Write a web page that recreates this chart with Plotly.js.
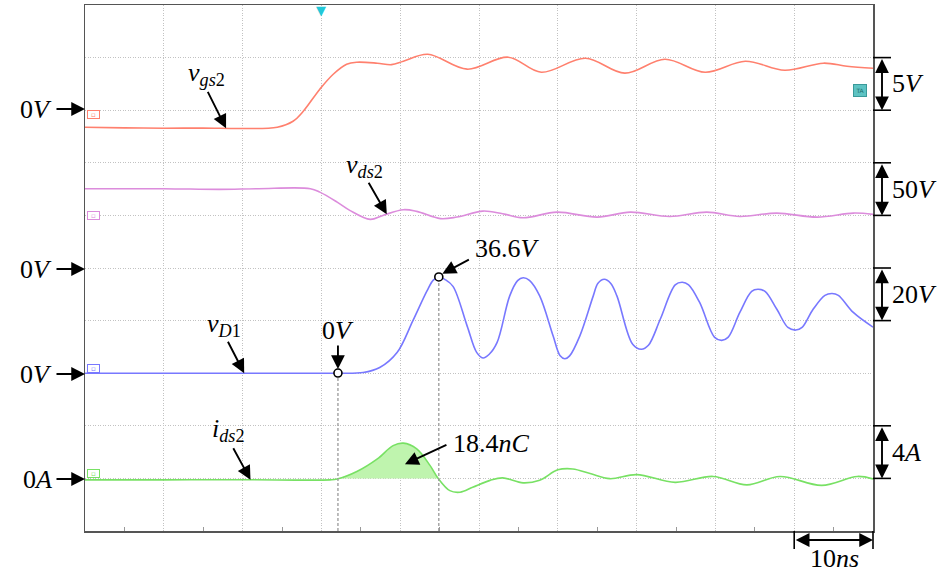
<!DOCTYPE html>
<html><head><meta charset="utf-8">
<script src="https://cdn.plot.ly/plotly-3.0.1.min.js"></script>
<style>html,body{margin:0;padding:0;background:#fff}#plot{width:938px;height:573px}</style>
</head><body><div id="plot"></div>
<script>
// ---- data (time in ns, 10 ns/div) ----
const tVgs2 = [0, 5, 10, 15, 20, 24.4, 26.4, 27.7, 29.8, 31.5, 33.2, 34.5, 37.1, 38.9, 40.4, 43.5, 48.5, 53.7, 57.9, 63.5, 68.5, 73.6, 78.7, 83.8, 88.8, 93.7, 96.7, 100];
const vgs2  = [-1.62, -1.68, -1.71, -1.70, -1.74, -1.62, -1.05, -0.10, 2.00, 3.42, 4.37, 4.56, 4.47, 4.33, 4.66, 5.32, 3.90, 5.04, 3.61, 4.94, 3.52, 4.85, 3.61, 4.66, 3.80, 4.47, 4.18, 3.99];

const tVds2 = [0, 10, 17.1, 22, 28.6, 29.8, 32.0, 33.6, 36.2, 37.8, 40.4, 42.1, 45.1, 47.2, 50.5, 53.0, 55.6, 59.9, 65.0, 69.2, 74.2, 78.9, 83.1, 87.8, 92.9, 97.5, 100];
const vds2  = [25.4, 25.4, 24.7, 25.4, 25.4, 22.1, 12.6, 4.8, -3.8, 0, 5.4, 3.8, -3.1, -1.6, 4.1, 1.6, -2.2, 3.1, -1.6, 3.1, -1.0, 3.1, -1.0, 2.2, -1.6, 2.2, 1.0];

const tVD1 = [0, 10, 20, 31.1, 35.3, 37.4, 39.6, 41.6, 43.4, 44.2, 44.9, 45.7, 46.7, 48.5, 49.7, 50.5, 51.3, 52.3, 53.9, 54.9, 55.6, 56.4, 57.7, 59.4, 60.3, 60.9, 61.5, 62.8, 64.5, 65.1, 65.9, 66.7, 67.5, 69.5, 70.6, 71.5, 73.0, 74.9, 75.8, 76.6, 78.0, 79.9, 80.8, 81.6, 83.1, 84.6, 85.4, 86.3, 87.8, 89.2, 90.2, 91.0, 92.4, 93.9, 94.8, 95.6, 97.5, 100];
const vD1  = [0, 0, 0, 0, 0.25, 2.15, 7.86, 19.9, 31.3, 35.4, 36.6, 35.6, 33.0, 17.9, 7.9, 5.8, 7.2, 11.7, 29.4, 35.2, 36.3, 35.3, 29.4, 14.2, 6.6, 5.5, 6.6, 14.2, 29.4, 34.2, 35.7, 34.2, 29.4, 11.0, 9.1, 10.6, 20.5, 33.6, 34.6, 33.6, 26.9, 13.6, 12.5, 13.6, 23.1, 31.1, 31.9, 31.1, 24.3, 17.4, 16.4, 17.4, 24.3, 29.6, 30.3, 29.6, 23.1, 17.5];

const tIds2 = [0, 10, 20, 31.1, 32.0, 34.5, 37.1, 39.1, 40.4, 42.1, 43.8, 44.8, 46.3, 47.6, 49.2, 51.4, 53.0, 55.6, 57.7, 60.0, 61.9, 64.1, 66.6, 70.0, 74.9, 79.7, 84.0, 88.2, 93.5, 98.0, 100];
const ids2  = [-0.11, -0.11, -0.10, -0.11, -0.05, 0.52, 1.48, 2.49, 2.68, 2.24, 0.97, 0.02, -0.93, -1.05, -0.67, -0.15, 0.04, -0.34, -0.14, 0.65, 0.72, 0.37, -0.02, 0.29, -0.30, 0.15, -0.49, 0.15, -0.53, 0.15, -0.04];

// channel settings: zero position (div from bottom) and scale per div
const chVgs2 = {zero: 8, scale: 5};
const chVds2 = {zero: 6, scale: 50};
const chVD1  = {zero: 3, scale: 20};
const chIds2 = {zero: 1, scale: 4};

const tZero = 32.1;         // instant where vD1 = 0V begins to rise
const qLabel = '18.4<i>nC</i>';
const peakLabel = '36.6<i>V</i>';

// ---- helpers ----
const toDiv = (arr, ch) => arr.map(v => ch.zero + v / ch.scale);
function interp(ts, vs, t) {
  for (let i = 1; i < ts.length; i++) {
    if (t <= ts[i]) { const f = (t - ts[i-1]) / (ts[i] - ts[i-1]); return vs[i-1] + f * (vs[i] - vs[i-1]); }
  }
  return vs[vs.length - 1];
}
const L = 85, T = 5, W = 788, H = 526;
const px = x => (x - L) / W;
const py = y => (T + H - y) / H;

const cG = '#ff806e', cD = '#dc8cdc', cV = '#7878ff', cI = '#78e164';
const font = {family: 'Liberation Serif', size: 26, color: '#000'};

// peak of vD1
let pk = 0; vD1.forEach((v, i) => { if (v > vD1[pk]) pk = i; });
const tPeak = tVD1[pk];

// charge fill polygon (ids2 between tZero and tPeak)
const fx = [tZero], fy = [interp(tIds2, ids2, tZero)];
tIds2.forEach((t, i) => { if (t > tZero && t < tPeak) { fx.push(t); fy.push(ids2[i]); } });
fx.push(tPeak); fy.push(Math.max(0, interp(tIds2, ids2, tPeak)));
fx.push(tPeak); fy.push(0); fx.push(tZero); fy.push(0);

const line = (x, y, c) => ({x, y, type: 'scatter', mode: 'lines', line: {color: c, width: 1.6, shape: 'spline', smoothing: 1}, hoverinfo: 'skip'});

const traces = [
  {x: fx, y: toDiv(fy, chIds2), type: 'scatter', mode: 'lines', fill: 'toself', fillcolor: '#bff4ae', line: {width: 0, shape: 'spline', smoothing: 0.6}, hoverinfo: 'skip'},
  line(tVgs2, toDiv(vgs2, chVgs2), cG),
  line(tVds2, toDiv(vds2, chVds2), cD),
  line(tVD1, toDiv(vD1, chVD1), cV),
  line(tIds2, toDiv(ids2, chIds2), cI),
  {x: [tZero, tPeak], y: [chVD1.zero + interp(tVD1, vD1, tZero) / chVD1.scale, chVD1.zero + vD1[pk] / chVD1.scale],
   type: 'scatter', mode: 'markers', marker: {symbol: 'circle', size: 8, color: '#fff', line: {color: '#000', width: 1.6}}, hoverinfo: 'skip', cliponaxis: false}
];

const shapes = [
  {type: 'line', xref: 'x', yref: 'y', x0: tZero, x1: tZero, y0: 0, y1: chVD1.zero - 0.08, line: {color: '#999', width: 1.3, dash: '3px,2px'}},
  {type: 'line', xref: 'x', yref: 'y', x0: tPeak, x1: tPeak, y0: 0, y1: chVD1.zero + vD1[pk] / chVD1.scale - 0.08, line: {color: '#999', width: 1.3, dash: '3px,2px'}},
];
const ann = [];
function arrow(xr, yr, x, y, ax, ay, both) {
  ann.push({xref: xr, yref: yr, x, y, ax, ay, axref: 'pixel', ayref: 'pixel', text: '', showarrow: true,
            arrowhead: 2, arrowsize: 1.45, arrowwidth: 1.9, arrowcolor: '#000', arrowside: both ? 'end+start' : 'end', standoff: 0, startstandoff: 0});
}
function text(x, y, s, xa, opts) {
  ann.push(Object.assign({xref: 'paper', yref: 'paper', x: px(x), y: py(y), text: s, showarrow: false, xanchor: xa || 'center', yanchor: 'middle', font}, opts || {}));
}

// left zero markers
[[109, '0<i>V</i>'], [269, '0<i>V</i>'], [374, '0<i>V</i>'], [479, '0<i>A</i>']].forEach(([y, s]) => {
  arrow('paper', 'paper', 0, py(y), -30, 0);
  text(54, y, s, 'right');
});

// right scale bars
[[chVgs2.zero, '5<i>V</i>'], [chVds2.zero, '50<i>V</i>'], [4, '20<i>V</i>'], [chIds2.zero, '4<i>A</i>']].forEach(([d, s]) => {
  arrow('paper', 'paper', px(882), d / 10, 0, -H / 10, true);
  shapes.push({type: 'line', xref: 'paper', yref: 'paper', x0: 1, x1: px(891), y0: d / 10, y1: d / 10, line: {color: '#000', width: 1.6}});
  shapes.push({type: 'line', xref: 'paper', yref: 'paper', x0: 1, x1: px(891), y0: (d + 1) / 10, y1: (d + 1) / 10, line: {color: '#000', width: 1.6}});
  ann.push({xref: 'paper', yref: 'paper', x: px(890), y: (d + 0.5) / 10, text: s, showarrow: false, xanchor: 'left', yanchor: 'middle', font});
});

// time scale bar
arrow('paper', 'paper', 1, py(540), -W / 10, 0, true);
shapes.push({type: 'line', xref: 'paper', yref: 'paper', x0: 0.9, x1: 0.9, y0: 0, y1: py(549), line: {color: '#000', width: 1.6}});
shapes.push({type: 'line', xref: 'paper', yref: 'paper', x0: 1, x1: 1, y0: 0, y1: py(549), line: {color: '#000', width: 1.6}});
text(834, 558, '10<i>ns</i>');

// trace labels with arrows
const sub = s => '<sub>' + s + '</sub>';
function label(x, y, s) { text(x, y, s, 'left'); }
label(186, 74, '<i>v</i>' + sub('<i>gs</i>2'));
arrow('x', 'y', 17.9, chVgs2.zero + interp(tVgs2, vgs2, 17.9) / chVgs2.scale, -19, -38);
label(344, 166, '<i>v</i>' + sub('<i>ds</i>2'));
arrow('x', 'y', 38.3, chVds2.zero + interp(tVds2, vds2, 38.3) / chVds2.scale, -19, -33);
label(205, 325, '<i>v</i>' + sub('<i>D</i>1'));
arrow('x', 'y', 20.2, chVD1.zero + interp(tVD1, vD1, 20.2) / chVD1.scale, -17, -33);
label(210, 430, '<i>i</i>' + sub('<i>ds</i>2'));
arrow('x', 'y', 21.0, chIds2.zero + interp(tIds2, ids2, 21.0) / chIds2.scale, -18, -33);
text(338, 330, '0<i>V</i>');
arrow('x', 'y', tZero, chVD1.zero + 0.08, 0, -25);
text(473, 248, peakLabel, 'left');
arrow('x', 'y', tPeak + 0.45, chVD1.zero + vD1[pk] / chVD1.scale + 0.06, 28, -15);
text(451, 443, qLabel, 'left');
arrow('x', 'y', 40.6, chIds2.zero + 0.27, 43, -20);

// scope decorations
ann.push({xref: 'paper', yref: 'paper', x: px(321), y: 1, yanchor: 'top', xanchor: 'center', text: '▼', showarrow: false, font: {family: 'DejaVu Sans', size: 13, color: '#22c8d8'}, yshift: 4});
ann.push({xref: 'paper', yref: 'paper', x: px(867), y: py(84), text: 'TA', showarrow: false, font: {family: 'DejaVu Sans', size: 6, color: '#1d6f6f'}, bgcolor: '#5ec3c3', bordercolor: '#3a9a9a', borderwidth: 1, borderpad: 1, width: 10, height: 9});
[[chVgs2.zero, cG], [chVds2.zero, cD], [chVD1.zero, cV], [chIds2.zero, cI]].forEach(([d, c]) => {
  ann.push({xref: 'paper', yref: 'paper', x: px(87), y: d / 10, xanchor: 'left', text: '▫', showarrow: false,
            font: {family: 'DejaVu Sans', size: 7, color: c}, bordercolor: c, borderwidth: 1, borderpad: 0, width: 11, height: 7, bgcolor: '#fff'});
});

const layout = {
  width: 938, height: 573, margin: {l: L, r: 938 - L - W, t: T, b: 573 - T - H},
  paper_bgcolor: '#fff', plot_bgcolor: '#fff', showlegend: false,
  font: {family: 'Liberation Serif', color: '#000'},
  xaxis: {range: [0, 100], dtick: 10, showticklabels: false, ticks: '', zeroline: false,
          showgrid: true, gridcolor: '#c2c2c2', griddash: '1px,1.5px', gridwidth: 1,
          showline: true, linecolor: '#555', linewidth: 1.5, mirror: true,
          minor: {ticks: 'inside', ticklen: 4, dtick: 5, tickcolor: '#999', showgrid: false}},
  yaxis: {range: [0, 10], dtick: 1, showticklabels: false, ticks: '', zeroline: false,
          showgrid: true, gridcolor: '#c2c2c2', griddash: '1px,1.5px', gridwidth: 1,
          showline: true, linecolor: '#555', linewidth: 1.5, mirror: true},
  shapes, annotations: ann
};
Plotly.newPlot('plot', traces, layout, {staticPlot: true});
</script></body></html>
